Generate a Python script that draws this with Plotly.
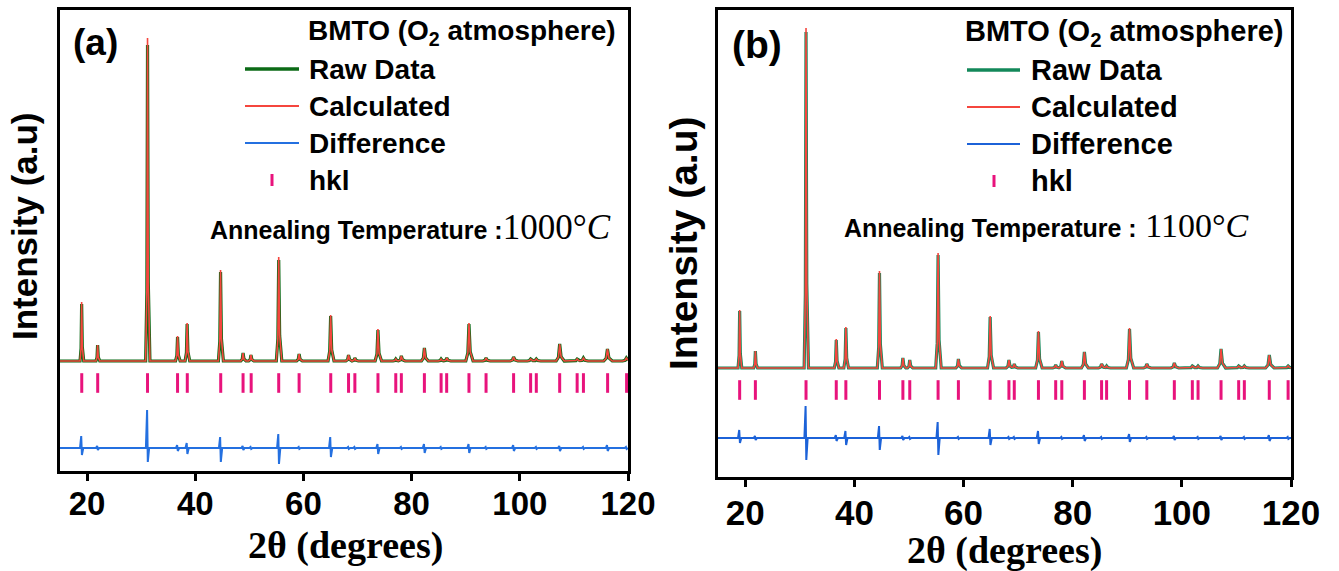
import numpy as np
import plotly.graph_objects as go

W, H = 1339, 571

# ---------------- data: panel (a), 1000 C ----------------
A_pos = [19.0, 21.95, 31.18, 36.73, 38.5, 44.68, 48.84, 50.3, 55.43, 59.2, 65.03, 68.34, 69.5,
         73.77, 77.07, 78.1, 82.36, 85.45, 86.5, 90.6, 93.76, 98.85, 102.0, 103.05, 107.37,
         110.6, 111.76, 116.2, 119.7]
A_calc = [59, 16, 323, 25, 38, 91, 8, 6, 104, 7, 46, 6, 3,
          32, 2, 5, 13, 2, 3, 38, 3, 4, 2, 2, 17,
          2, 3, 12, 3]
A_raw = [57, 16, 316, 24, 37, 89, 8, 6, 101, 7, 45, 6, 3,
         31, 2, 5, 13, 2, 3, 37, 3, 4, 2, 2, 17,
         2, 3, 12, 3]
A_diff_up = [12, 2, 38, 3, 5, 11, 2, 1, 14, 1, 11, 1, 1,
             4, 0, 1, 4, 1, 0, 4, 1, 3, 0, 1, 2,
             0, 1, 3, 1]
A_diff_down = [7, 2, 14, 3, 6, 14, 2, 1, 16, 1, 9, 1, 1,
               6, 0, 1, 5, 1, 0, 5, 1, 3, 0, 1, 3,
               0, 1, 3, 1]
A_hkl = [19.02, 21.97, 31.18, 36.73, 38.53, 44.71, 48.84, 50.34, 55.43, 59.2, 65.05, 68.34, 69.51,
         73.78, 77.07, 78.1, 82.36, 85.45, 86.48, 90.6, 93.76, 98.85, 102.0, 103.05, 107.37,
         110.6, 111.76, 116.23, 119.74]
A_diff_offset = -87
A_hkl_level = -22

# ---------------- data: panel (b), 1100 C ----------------
B_pos = [18.97, 21.85, 31.13, 36.67, 38.43, 44.59, 48.88, 50.14, 55.33, 59.05, 64.87, 68.31, 69.29,
         73.72, 76.88, 78.0, 82.14, 85.29, 86.21, 90.41, 93.58, 98.62, 101.92, 102.97, 107.18,
         110.41, 111.45, 116.02, 119.47]
B_calc = [58, 17, 340, 29, 41, 97, 10, 8, 115, 9, 52, 8, 4,
          37, 3, 7, 16, 4, 2, 40, 4, 5, 2, 2, 19,
          2, 2, 13, 2]
B_raw = [57, 17, 336, 28, 40, 95, 10, 8, 113, 9, 51, 8, 4,
         36, 3, 7, 16, 4, 2, 39, 4, 5, 2, 2, 19,
         2, 2, 13, 2]
B_diff_up = [8, 2, 32, 3, 7, 12, 2, 1, 16, 1, 9, 1, 1,
             7, 0, 1, 3, 1, 0, 4, 1, 2, 0, 1, 2,
             0, 1, 3, 1]
B_diff_down = [5, 2, 22, 3, 7, 12, 2, 1, 17, 1, 7, 1, 1,
               6, 0, 1, 3, 1, 0, 4, 1, 2, 0, 1, 2,
               0, 1, 3, 1]
B_hkl = list(B_pos)
B_diff_offset = -70
B_hkl_level = -22

X_TICKS = [20, 40, 60, 80, 100, 120]
X_RANGE = [15, 120]


def profile(pos, heights):
    xs = [X_RANGE[0], X_RANGE[1]]
    parts = []
    for p, h in zip(pos, heights):
        w = 0.28 + 0.004 * (p - 15)
        vx = [p - w, p - 0.35 * w, p, p + 0.4 * w, p + 1.3 * w]
        vy = [0, 0.22 * h, h, 0.25 * h, 0]
        parts.append((vx, vy))
        xs += vx
    grid = np.unique(np.clip(xs, *X_RANGE))
    y = np.zeros_like(grid)
    for vx, vy in parts:
        y += np.interp(grid, vx, vy, left=0, right=0)
    return grid, y


def diff_profile(pos, up, down, offset):
    xs = [X_RANGE[0], X_RANGE[1]]
    parts = []
    for p, u, d in zip(pos, up, down):
        vx = [p - 0.3, p - 0.08, p + 0.05, p + 0.3]
        vy = [0, u, -d, 0]
        parts.append((vx, vy))
        xs += vx
    grid = np.unique(np.clip(xs, *X_RANGE))
    y = np.zeros_like(grid)
    for vx, vy in parts:
        y += np.interp(grid, vx, vy, left=0, right=0)
    return grid, y + offset


RED = "#f5463e"
PINK = "#e8137c"
panels = [
    dict(pos=A_pos, calc=A_calc, raw=A_raw, up=A_diff_up, down=A_diff_down, hkl=A_hkl,
         off=A_diff_offset, lvl=A_hkl_level, green="#0b6a16", blue="#2470e0",
         xa="x", ya="y"),
    dict(pos=B_pos, calc=B_calc, raw=B_raw, up=B_diff_up, down=B_diff_down, hkl=B_hkl,
         off=B_diff_offset, lvl=B_hkl_level, green="#13885a", blue="#1c62d8",
         xa="x2", ya="y2"),
]

fig = go.Figure()
for pnl in panels:
    gx, gy = profile(pnl["pos"], pnl["raw"])
    fig.add_trace(go.Scatter(x=gx, y=gy, mode="lines", name="Raw Data",
                             line=dict(color=pnl["green"], width=3.2),
                             xaxis=pnl["xa"], yaxis=pnl["ya"], showlegend=False))
    cx, cy = profile(pnl["pos"], pnl["calc"])
    fig.add_trace(go.Scatter(x=cx, y=cy, mode="lines", name="Calculated",
                             line=dict(color=RED, width=1.6),
                             xaxis=pnl["xa"], yaxis=pnl["ya"], showlegend=False))
    dx, dy = diff_profile(pnl["pos"], pnl["up"], pnl["down"], pnl["off"])
    fig.add_trace(go.Scatter(x=dx, y=dy, mode="lines", name="Difference",
                             line=dict(color=pnl["blue"], width=2),
                             xaxis=pnl["xa"], yaxis=pnl["ya"], showlegend=False))
    fig.add_trace(go.Scatter(x=pnl["hkl"], y=[pnl["lvl"]] * len(pnl["hkl"]), mode="markers",
                             name="hkl",
                             marker=dict(symbol="line-ns", size=14,
                                         line=dict(color=PINK, width=3)),
                             xaxis=pnl["xa"], yaxis=pnl["ya"], showlegend=False))


def px(x):
    return x / W


def py(y):
    return 1 - y / H


ax_common = dict(showgrid=False, zeroline=False, showline=True, linecolor="black",
                 linewidth=2.5, mirror=True, automargin=False)

fig.update_layout(
    width=W, height=H, margin=dict(l=0, r=0, t=0, b=0, pad=0), autosize=False,
    paper_bgcolor="white", plot_bgcolor="white", showlegend=False,
    xaxis=dict(domain=[px(60), px(628)], range=X_RANGE, tickvals=X_TICKS,
               ticks="outside", ticklen=7, tickwidth=3, tickcolor="black",
               ticklabelstandoff=-5,
               tickfont=dict(family="Liberation Sans, Arial", size=33, color="black", weight="bold"),
               anchor="y", **ax_common),
    yaxis=dict(domain=[py(471), py(10)], range=[-110, 351], showticklabels=False, ticks="",
               anchor="x", **ax_common),
    xaxis2=dict(domain=[px(718), px(1291)], range=X_RANGE, tickvals=X_TICKS,
                ticks="outside", ticklen=7, tickwidth=3, tickcolor="black",
                ticklabelstandoff=-4,
                tickfont=dict(family="Liberation Sans, Arial", size=35, color="black", weight="bold"),
                anchor="y2", **ax_common),
    yaxis2=dict(domain=[py(477), py(10)], range=[-109, 358], showticklabels=False, ticks="",
                anchor="x2", **ax_common),
)

SANS = "Liberation Sans, Arial"
SERIF = "Liberation Serif, Times New Roman"
ann = []
shapes = []


def text(x, y, s, size, family=SANS, xanchor="center", angle=0):
    ann.append(dict(x=px(x), y=py(y), xref="paper", yref="paper", text=s, showarrow=False,
                    xanchor=xanchor, yanchor="middle", textangle=angle,
                    font=dict(family=family, size=size, color="black")))


# panel labels
text(95, 43, "<b>(a)</b>", 37)
text(757, 45, "<b>(b)</b>", 39)

# axis titles
text(345, 545, "<b>2θ (degrees)</b>", 38, SERIF)
text(1005, 550, "<b>2θ (degrees)</b>", 38, SERIF)
text(25, 226, "<b>Intensity (a.u)</b>", 35, angle=-90)
text(684, 243, "<b>Intensity (a.u)</b>", 39, angle=-90)

# legends
leg = [
    dict(x0=245, x1=299, tx=307, ys=[69, 106, 143, 180], hx=272, title_x=618, title_y=32,
         green="#0b6a16", blue="#2470e0", gw=3.6, ann_x=208, ann_y=228, temp="1000°", sep="",
         fs=28, tsize=35),
    dict(x0=967, x1=1020, tx=1029, ys=[70, 107, 144, 181], hx=994, title_x=1286, title_y=33,
         green="#13885a", blue="#1c62d8", gw=3.4, ann_x=842, ann_y=225, temp="1100°", sep=" ",
         fs=29, tsize=34),
]
for L in leg:
    text(L["title_x"], L["title_y"],
         "<b>BMTO (O<sub>2</sub> atmosphere)</b>", L["fs"], xanchor="right")
    names = ["Raw Data", "Calculated", "Difference", "hkl"]
    cols = [L["green"], RED, L["blue"]]
    widths = [L["gw"], 2.2, 2.2]
    for i, nm in enumerate(names):
        y = L["ys"][i]
        text(L["tx"], y, f"<b>{nm}</b>", L["fs"], xanchor="left")
        if i < 3:
            shapes.append(dict(type="line", xref="paper", yref="paper",
                               x0=px(L["x0"]), x1=px(L["x1"]), y0=py(y), y1=py(y),
                               line=dict(color=cols[i], width=widths[i])))
        else:
            shapes.append(dict(type="line", xref="paper", yref="paper",
                               x0=px(L["hx"]), x1=px(L["hx"]), y0=py(y - 6), y1=py(y + 6),
                               line=dict(color=PINK, width=3)))
    text(L["ann_x"], L["ann_y"],
         "<b>Annealing Temperature :</b>"
         f"<span style='font-family:Liberation Serif, Times New Roman;font-size:{L['tsize']}px'>"
         f"{L['sep']}{L['temp']}<i>C</i></span>",
         25, xanchor="left")

fig.update_layout(annotations=ann, shapes=shapes)
fig.write_html("out.html")
